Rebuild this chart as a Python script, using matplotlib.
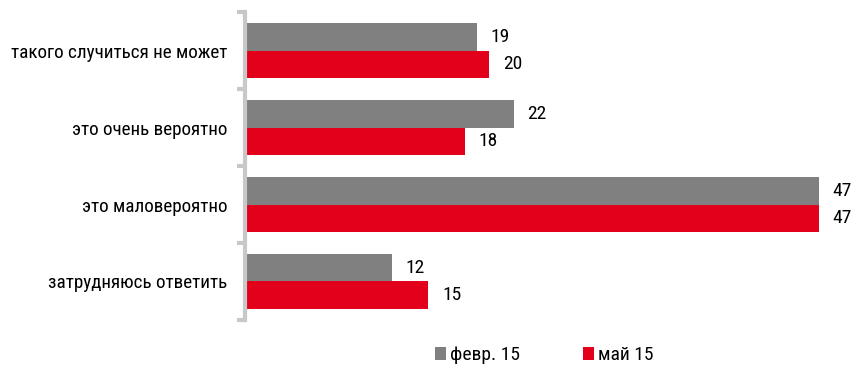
import matplotlib.pyplot as plt
import numpy as np

plt.rcParams['font.family'] = ['Roboto Condensed', 'Liberation Sans', 'DejaVu Sans']

categories = ['такого случиться не может', 'это очень вероятно',
              'это маловероятно', 'затрудняюсь ответить']
feb = [19, 22, 47, 12]
may = [20, 18, 47, 15]
series_names = ['февр. 15', 'май 15']

grey = '#808080'
red = '#E2001A'

fig = plt.figure(figsize=(8.57, 3.69), dpi=100)
ax = fig.add_axes([0.286, 0.133, 0.712, 0.834])

y = np.arange(len(categories))
h = 0.355
ax.barh(y - h / 2, feb, height=h, color=grey, label=series_names[0])
ax.barh(y + h / 2, may, height=h, color=red, label=series_names[1])

for i in range(len(categories)):
    ax.annotate(str(feb[i]), (feb[i], y[i] - h / 2), xytext=(10, 0),
                textcoords='offset points', va='center', ha='left', fontsize=14)
    ax.annotate(str(may[i]), (may[i], y[i] + h / 2), xytext=(10, 0),
                textcoords='offset points', va='center', ha='left', fontsize=14)

ax.set_xlim(0, 50)
ax.set_ylim(len(categories) - 0.5, -0.5)

ax.set_yticks(y)
ax.set_yticklabels(categories, fontsize=13.8)
ax.tick_params(axis='y', which='major', length=0, pad=13)
ax.set_yticks(np.arange(-0.5, len(categories), 1), minor=True)
ax.tick_params(axis='y', which='minor', length=6, width=3, color='#C8C8C8')
ax.set_xticks([])

for s in ['top', 'right', 'bottom']:
    ax.spines[s].set_visible(False)
ax.spines['left'].set_color('#C8C8C8')
ax.spines['left'].set_linewidth(3)

fig.legend(loc='lower center', bbox_to_anchor=(0.635, -0.035), ncol=2, frameon=False,
           fontsize=14, handlelength=0.6, handleheight=0.6, handletextpad=0.2,
           columnspacing=3.2)

fig.savefig('out.png', dpi=100)
